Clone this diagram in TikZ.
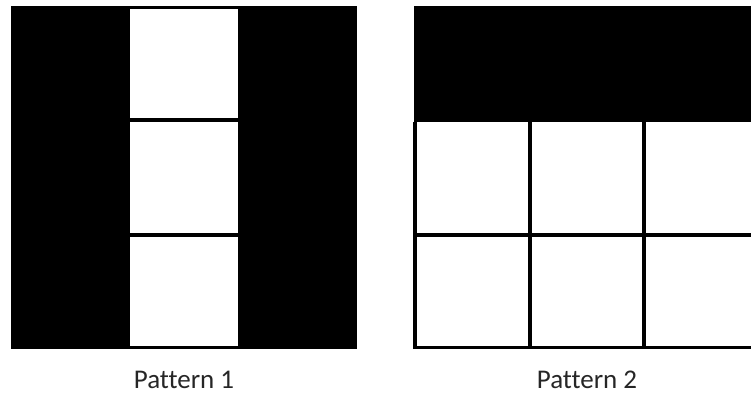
\documentclass[tikz,border=0pt]{standalone}
\usepackage{fontspec}
\setmainfont[Ligatures=NoCommon]{Carlito}
\begin{document}
\begin{tikzpicture}[x=1pt,y=-1pt]
\tikzset{gridline/.style={line width=3.2pt},
  caption/.style={font=\fontsize{27}{30}\selectfont, text=black!85, inner sep=0pt}}
\useasboundingbox (0,0) rectangle (751,394);

% pattern 1
\fill (11,6) rectangle (128,349);
\fill (240,6) rectangle (357,349);
\draw[gridline] (128,7.6) rectangle (240,347.4);
\draw[gridline] (128,120) -- (240,120);
\draw[gridline] (128,235) -- (240,235);

% pattern 2
\fill (414,6) rectangle (752,122);
\draw[gridline] (415,122) -- (415,347.4) -- (752,347.4);
\draw[gridline] (530,122) -- (530,349);
\draw[gridline] (644,122) -- (644,349);
\draw[gridline] (415,235) -- (752,235);

\node[caption] (cap1) at (184,380) {Pattern 1};
\node[caption] (cap2) at (587,380) {Pattern 2};
\end{tikzpicture}
\end{document}
